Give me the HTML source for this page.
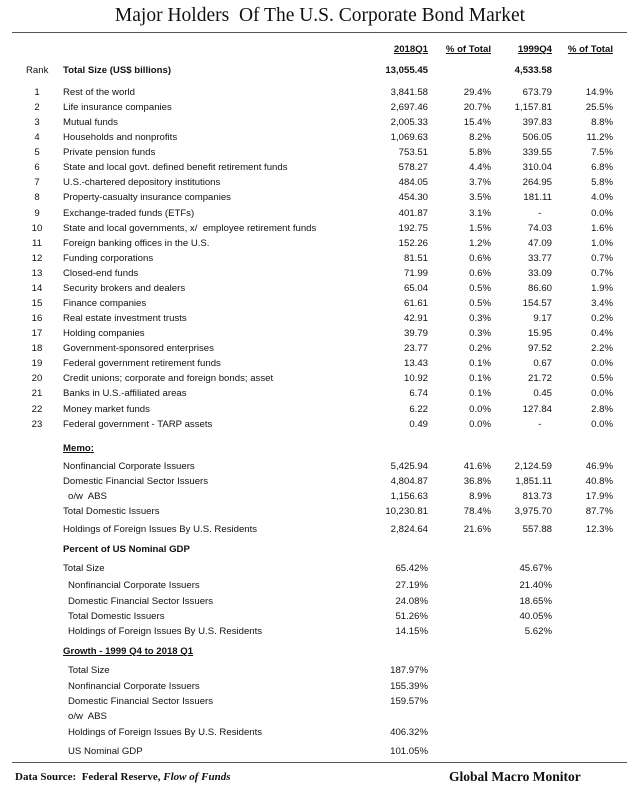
<!DOCTYPE html>
<html><head><meta charset="utf-8"><style>
body{margin:0;width:640px;height:788px;background:#fff;position:relative;overflow:hidden;font-family:"Liberation Sans",sans-serif;font-size:9.6px;color:#111}
.r{position:absolute;left:0;width:640px;height:14px;line-height:14px}
.r span{position:absolute;white-space:nowrap}
.k{left:26px;width:22px;text-align:center}
.n{left:63px}.ni{left:68px}
.a{right:212px}.b{right:149px}.c{right:88px}.d{right:27px}
.bd{font-weight:bold}
.u{text-decoration:underline}
.serif{font-family:"Liberation Serif",serif}
</style></head><body>
<div class="serif" style="position:absolute;left:0;width:640px;top:5px;text-align:center;font-size:19.5px">Major Holders&nbsp; Of The U.S. Corporate Bond Market</div>
<div style="position:absolute;left:12px;width:615px;top:32px;height:1px;background:#555"></div>

<div class="r bd" style="top:43px"><span class="a u">2018Q1</span><span class="b u">% of Total</span><span class="c u">1999Q4</span><span class="d u">% of Total</span></div>
<div class="r" style="top:64px"><span class="k">Rank</span><span class="n bd">Total Size (US$ billions)</span><span class="a bd">13,055.45</span><span class="c bd">4,533.58</span></div>

<div class="r" style="top:86px"><span class="k">1</span><span class="n">Rest of the world</span><span class="a">3,841.58</span><span class="b">29.4%</span><span class="c">673.79</span><span class="d">14.9%</span></div>
<div class="r" style="top:101px"><span class="k">2</span><span class="n">Life insurance companies</span><span class="a">2,697.46</span><span class="b">20.7%</span><span class="c">1,157.81</span><span class="d">25.5%</span></div>
<div class="r" style="top:116px"><span class="k">3</span><span class="n">Mutual funds</span><span class="a">2,005.33</span><span class="b">15.4%</span><span class="c">397.83</span><span class="d">8.8%</span></div>
<div class="r" style="top:131px"><span class="k">4</span><span class="n">Households and nonprofits</span><span class="a">1,069.63</span><span class="b">8.2%</span><span class="c">506.05</span><span class="d">11.2%</span></div>
<div class="r" style="top:146px"><span class="k">5</span><span class="n">Private pension funds</span><span class="a">753.51</span><span class="b">5.8%</span><span class="c">339.55</span><span class="d">7.5%</span></div>
<div class="r" style="top:161px"><span class="k">6</span><span class="n">State and local govt. defined benefit retirement funds</span><span class="a">578.27</span><span class="b">4.4%</span><span class="c">310.04</span><span class="d">6.8%</span></div>
<div class="r" style="top:176px"><span class="k">7</span><span class="n">U.S.-chartered depository institutions</span><span class="a">484.05</span><span class="b">3.7%</span><span class="c">264.95</span><span class="d">5.8%</span></div>
<div class="r" style="top:191px"><span class="k">8</span><span class="n">Property-casualty insurance companies</span><span class="a">454.30</span><span class="b">3.5%</span><span class="c">181.11</span><span class="d">4.0%</span></div>
<div class="r" style="top:207px"><span class="k">9</span><span class="n">Exchange-traded funds (ETFs)</span><span class="a">401.87</span><span class="b">3.1%</span><span class="c">-&nbsp;&nbsp;&nbsp;&nbsp;</span><span class="d">0.0%</span></div>
<div class="r" style="top:222px"><span class="k">10</span><span class="n">State and local governments, x/&nbsp; employee retirement funds</span><span class="a">192.75</span><span class="b">1.5%</span><span class="c">74.03</span><span class="d">1.6%</span></div>
<div class="r" style="top:237px"><span class="k">11</span><span class="n">Foreign banking offices in the U.S.</span><span class="a">152.26</span><span class="b">1.2%</span><span class="c">47.09</span><span class="d">1.0%</span></div>
<div class="r" style="top:252px"><span class="k">12</span><span class="n">Funding corporations</span><span class="a">81.51</span><span class="b">0.6%</span><span class="c">33.77</span><span class="d">0.7%</span></div>
<div class="r" style="top:267px"><span class="k">13</span><span class="n">Closed-end funds</span><span class="a">71.99</span><span class="b">0.6%</span><span class="c">33.09</span><span class="d">0.7%</span></div>
<div class="r" style="top:282px"><span class="k">14</span><span class="n">Security brokers and dealers</span><span class="a">65.04</span><span class="b">0.5%</span><span class="c">86.60</span><span class="d">1.9%</span></div>
<div class="r" style="top:297px"><span class="k">15</span><span class="n">Finance companies</span><span class="a">61.61</span><span class="b">0.5%</span><span class="c">154.57</span><span class="d">3.4%</span></div>
<div class="r" style="top:312px"><span class="k">16</span><span class="n">Real estate investment trusts</span><span class="a">42.91</span><span class="b">0.3%</span><span class="c">9.17</span><span class="d">0.2%</span></div>
<div class="r" style="top:327px"><span class="k">17</span><span class="n">Holding companies</span><span class="a">39.79</span><span class="b">0.3%</span><span class="c">15.95</span><span class="d">0.4%</span></div>
<div class="r" style="top:342px"><span class="k">18</span><span class="n">Government-sponsored enterprises</span><span class="a">23.77</span><span class="b">0.2%</span><span class="c">97.52</span><span class="d">2.2%</span></div>
<div class="r" style="top:357px"><span class="k">19</span><span class="n">Federal government retirement funds</span><span class="a">13.43</span><span class="b">0.1%</span><span class="c">0.67</span><span class="d">0.0%</span></div>
<div class="r" style="top:372px"><span class="k">20</span><span class="n">Credit unions; corporate and foreign bonds; asset</span><span class="a">10.92</span><span class="b">0.1%</span><span class="c">21.72</span><span class="d">0.5%</span></div>
<div class="r" style="top:387px"><span class="k">21</span><span class="n">Banks in U.S.-affiliated areas</span><span class="a">6.74</span><span class="b">0.1%</span><span class="c">0.45</span><span class="d">0.0%</span></div>
<div class="r" style="top:403px"><span class="k">22</span><span class="n">Money market funds</span><span class="a">6.22</span><span class="b">0.0%</span><span class="c">127.84</span><span class="d">2.8%</span></div>
<div class="r" style="top:418px"><span class="k">23</span><span class="n">Federal government - TARP assets</span><span class="a">0.49</span><span class="b">0.0%</span><span class="c">-&nbsp;&nbsp;&nbsp;&nbsp;</span><span class="d">0.0%</span></div>

<div class="r" style="top:442px"><span class="n bd u">Memo:</span></div>
<div class="r" style="top:460px"><span class="n">Nonfinancial Corporate Issuers</span><span class="a">5,425.94</span><span class="b">41.6%</span><span class="c">2,124.59</span><span class="d">46.9%</span></div>
<div class="r" style="top:475px"><span class="n">Domestic Financial Sector Issuers</span><span class="a">4,804.87</span><span class="b">36.8%</span><span class="c">1,851.11</span><span class="d">40.8%</span></div>
<div class="r" style="top:490px"><span class="ni">o/w&nbsp; ABS</span><span class="a">1,156.63</span><span class="b">8.9%</span><span class="c">813.73</span><span class="d">17.9%</span></div>
<div class="r" style="top:505px"><span class="n">Total Domestic Issuers</span><span class="a">10,230.81</span><span class="b">78.4%</span><span class="c">3,975.70</span><span class="d">87.7%</span></div>
<div class="r" style="top:523px"><span class="n">Holdings of Foreign Issues By U.S. Residents</span><span class="a">2,824.64</span><span class="b">21.6%</span><span class="c">557.88</span><span class="d">12.3%</span></div>

<div class="r" style="top:543px"><span class="n bd">Percent of US Nominal GDP</span></div>
<div class="r" style="top:562px"><span class="n">Total Size</span><span class="a">65.42%</span><span class="c">45.67%</span></div>
<div class="r" style="top:579px"><span class="ni">Nonfinancial Corporate Issuers</span><span class="a">27.19%</span><span class="c">21.40%</span></div>
<div class="r" style="top:595px"><span class="ni">Domestic Financial Sector Issuers</span><span class="a">24.08%</span><span class="c">18.65%</span></div>
<div class="r" style="top:610px"><span class="ni">Total Domestic Issuers</span><span class="a">51.26%</span><span class="c">40.05%</span></div>
<div class="r" style="top:625px"><span class="ni">Holdings of Foreign Issues By U.S. Residents</span><span class="a">14.15%</span><span class="c">5.62%</span></div>

<div class="r" style="top:645px"><span class="n bd u">Growth - 1999 Q4 to 2018 Q1</span></div>
<div class="r" style="top:664px"><span class="ni">Total Size</span><span class="a">187.97%</span></div>
<div class="r" style="top:680px"><span class="ni">Nonfinancial Corporate Issuers</span><span class="a">155.39%</span></div>
<div class="r" style="top:695px"><span class="ni">Domestic Financial Sector Issuers</span><span class="a">159.57%</span></div>
<div class="r" style="top:710px"><span class="ni">o/w&nbsp; ABS</span></div>
<div class="r" style="top:726px"><span class="ni">Holdings of Foreign Issues By U.S. Residents</span><span class="a">406.32%</span></div>
<div class="r" style="top:745px"><span class="ni">US Nominal GDP</span><span class="a">101.05%</span></div>

<div style="position:absolute;left:12px;width:615px;top:762px;height:1px;background:#555"></div>
<div class="serif bd" style="position:absolute;left:15px;top:771px;font-size:11px">Data Source:&nbsp; Federal Reserve, <i>Flow of Funds</i></div>
<div class="serif bd" style="position:absolute;left:449px;top:769px;font-size:13.5px">Global Macro Monitor</div>
</body></html>
